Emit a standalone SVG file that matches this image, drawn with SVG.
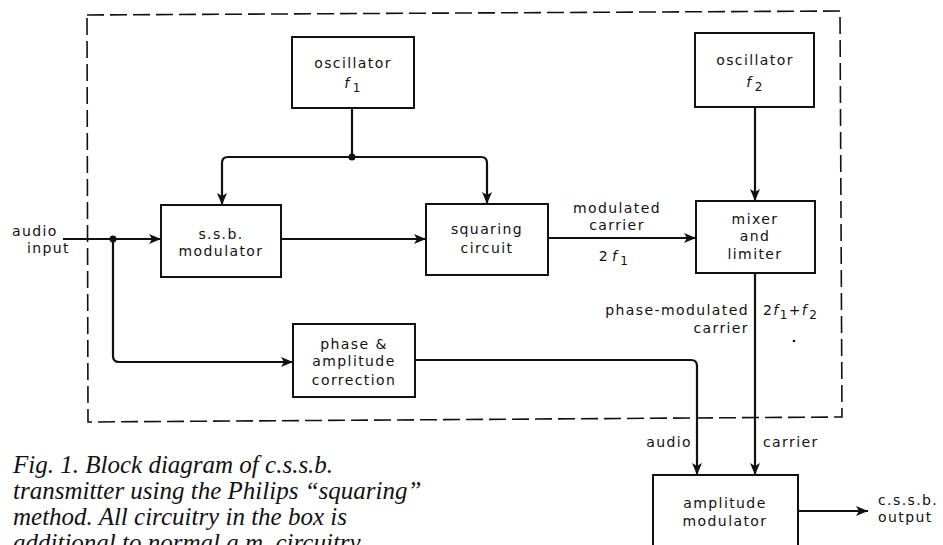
<svg xmlns="http://www.w3.org/2000/svg" width="943" height="545" viewBox="0 0 943 545">
<defs>
<marker id="arr" viewBox="0 0 12 10" refX="12" refY="5" markerWidth="12" markerHeight="10" markerUnits="userSpaceOnUse" orient="auto">
<path d="M0,0 L12,5 L0,10 L3,5 Z" fill="#111"/>
</marker>
<style>
.box{fill:#fff;stroke:#111;stroke-width:2}
.t{font-family:"DejaVu Sans",sans-serif;font-size:14px;letter-spacing:1.4px;fill:#111}
.m{text-anchor:middle}
.e{text-anchor:end}
.it{font-style:italic}
.c{fill:none;stroke:#111;stroke-width:2.2}
.a{marker-end:url(#arr)}
.dash{fill:none;stroke:#111;stroke-width:1.6;stroke-dasharray:17 6}
.cap{font-family:"Liberation Serif",serif;font-style:italic;font-size:25px;fill:#111}
</style>
</defs>
<rect width="943" height="545" fill="#fff"/>

<path class="dash" d="M87,15 L840,11 L842,417 L88,422 Z"/>

<g id="connectors">
<path class="c a" d="M63,239 H161"/>
<path class="c a" d="M113,239 V356 Q113,362 119,362 H293"/>
<path class="c a" d="M281,239 H426"/>
<path class="c" d="M352,108 V157"/>
<path class="c a" d="M352,157 H228 Q222,157 222,163 V205"/>
<path class="c a" d="M352,157 H481 Q487,157 487,163 V204"/>
<path class="c a" d="M548,238 H696"/>
<path class="c a" d="M755,107 V201"/>
<path class="c a" d="M755,273 V475"/>
<path class="c a" d="M415,360 H691 Q697,360 697,366 V475"/>
<path class="c a" d="M798,511 H868"/>
<circle cx="113" cy="239" r="3.5" fill="#111"/>
<circle cx="352" cy="157" r="3.5" fill="#111"/>
</g>

<g id="osc1">
<rect class="box" x="292" y="37" width="122" height="71"/>
<text class="t m" x="353" y="68">oscillator</text>
<text class="t m" x="353" y="88"><tspan class="it">f</tspan><tspan font-size="12" dy="4" dx="2">1</tspan></text>
</g>

<g id="osc2">
<rect class="box" x="695" y="33" width="119" height="74"/>
<text class="t m" x="755" y="65">oscillator</text>
<text class="t m" x="755" y="87"><tspan class="it">f</tspan><tspan font-size="12" dy="4" dx="2">2</tspan></text>
</g>

<g id="ssb">
<rect class="box" x="161" y="205" width="120" height="72"/>
<text class="t m" x="221" y="239">s.s.b.</text>
<text class="t m" x="221" y="256">modulator</text>
</g>

<g id="squaring">
<rect class="box" x="426" y="204" width="122" height="71"/>
<text class="t m" x="487" y="234">squaring</text>
<text class="t m" x="487" y="253">circuit</text>
</g>

<g id="mixer">
<rect class="box" x="696" y="201" width="119" height="72"/>
<text class="t m" x="755" y="224">mixer</text>
<text class="t m" x="755" y="241">and</text>
<text class="t m" x="755" y="259">limiter</text>
</g>

<g id="phase">
<rect class="box" x="293" y="324" width="122" height="73"/>
<text class="t m" x="354" y="349">phase &amp;</text>
<text class="t m" x="354" y="366">amplitude</text>
<text class="t m" x="354" y="385">correction</text>
</g>

<g id="ammod">
<rect class="box" x="653" y="475" width="145" height="100"/>
<text class="t m" x="725" y="508">amplitude</text>
<text class="t m" x="725" y="526">modulator</text>
</g>

<g id="labels">
<text class="t" x="12" y="236">audio</text>
<text class="t" x="27" y="253">input</text>
<text class="t m" x="617" y="213">modulated</text>
<text class="t m" x="617" y="230">carrier</text>
<text class="t m" x="614" y="261">2<tspan class="it" dx="3">f</tspan><tspan font-size="12" dy="4" dx="2">1</tspan></text>
<text class="t e" x="749" y="315">phase-modulated</text>
<text class="t e" x="749" y="333">carrier</text>
<text class="t" x="763" y="315">2<tspan class="it">f</tspan><tspan font-size="12" dy="4">1</tspan><tspan dy="-4">+</tspan><tspan class="it">f</tspan><tspan font-size="12" dy="4" dx="1">2</tspan></text>
<text class="t e" x="692" y="447">audio</text>
<text class="t" x="763" y="447">carrier</text>
<text class="t" x="878" y="505">c.s.s.b.</text>
<text class="t" x="878" y="522">output</text>
<circle cx="794" cy="341" r="1.3" fill="#111"/>
</g>

<g id="caption">
<text class="cap" x="13" y="473">Fig. 1. Block diagram of c.s.s.b.</text>
<text class="cap" x="13" y="499">transmitter using the Philips “squaring”</text>
<text class="cap" x="13" y="525">method. All circuitry in the box is</text>
<text class="cap" x="13" y="551">additional to normal a.m. circuitry.</text>
</g>
</svg>
